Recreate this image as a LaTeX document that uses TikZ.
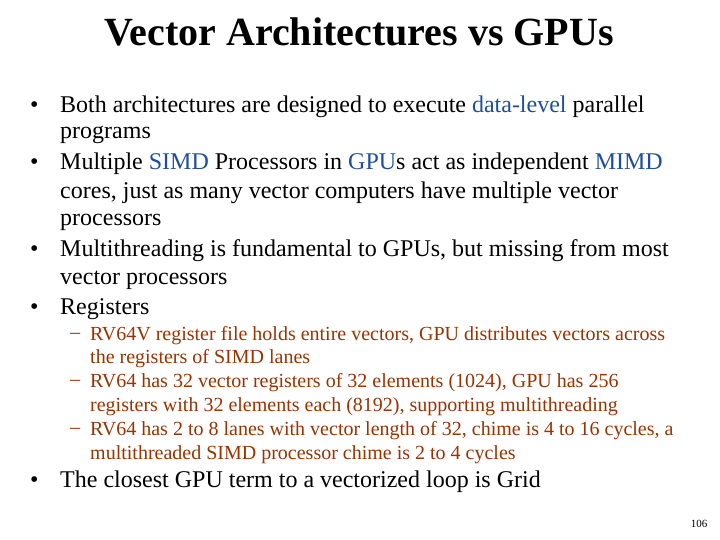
\documentclass[tikz,border=0pt]{standalone}
\usepackage{fontspec}
\setmainfont{Liberation Serif}
\definecolor{hiblue}{RGB}{31,78,160}
\definecolor{subred}{RGB}{153,51,0}
\begin{document}
\begin{tikzpicture}[x=1pt,y=-1pt,
  line/.style={anchor=west,inner sep=0pt,font=\fontsize{24}{28}\selectfont},
  subline/.style={anchor=west,inner sep=0pt,text=subred,font=\fontsize{20}{23}\selectfont}]
\useasboundingbox (0,0) rectangle (720,540);
% Title
\node[inner sep=0pt,font=\fontsize{40}{44}\selectfont\bfseries] (title) at (359,32) {Vector Architectures vs GPUs};
% Bullets
\foreach \y/\n in {107/b1,164/b2,251/b3,309/b4,482/b5}
  \node[anchor=west,inner sep=0pt,font=\fontsize{24}{28}\selectfont] (\n) at (30,\y) {•};
\node[line] (l1) at (60,107) {Both architectures are designed to execute \textcolor{hiblue}{data-level} parallel};
\node[line] (l2) at (60,135) {programs};
\node[line] (l3) at (60,164) {Multiple \textcolor{hiblue}{SIMD} Processors in \textcolor{hiblue}{GPU}s act as independent \textcolor{hiblue}{MIMD}};
\node[line] (l4) at (60,193) {cores, just as many vector computers have multiple vector};
\node[line] (l5) at (60,222) {processors};
\node[line] (l6) at (60,251) {Multithreading is fundamental to GPUs, but missing from most};
\node[line] (l7) at (60,280) {vector processors};
\node[line] (l8) at (60,309) {Registers};
% Sub-bullets
\foreach \y/\n in {336/d1,383/d2,431/d3}
  \node[subline] (\n) at (70,\y) {--};
\node[subline] (s1) at (90,336) {RV64V register file holds entire vectors, GPU distributes vectors across};
\node[subline] (s2) at (90,359) {the registers of SIMD lanes};
\node[subline] (s3) at (90,383) {RV64 has 32 vector registers of 32 elements (1024), GPU has 256};
\node[subline] (s4) at (90,407) {registers with 32 elements each (8192), supporting multithreading};
\node[subline] (s5) at (90,431) {RV64 has 2 to 8 lanes with vector length of 32, chime is 4 to 16 cycles, a};
\node[subline] (s6) at (90,455) {multithreaded SIMD processor chime is 2 to 4 cycles};
\node[line] (l9) at (60,482) {The closest GPU term to a vectorized loop is Grid};
% Page number
\node[inner sep=0pt,font=\fontsize{11}{13}\selectfont] (page) at (699,524) {106};
\end{tikzpicture}
\end{document}
